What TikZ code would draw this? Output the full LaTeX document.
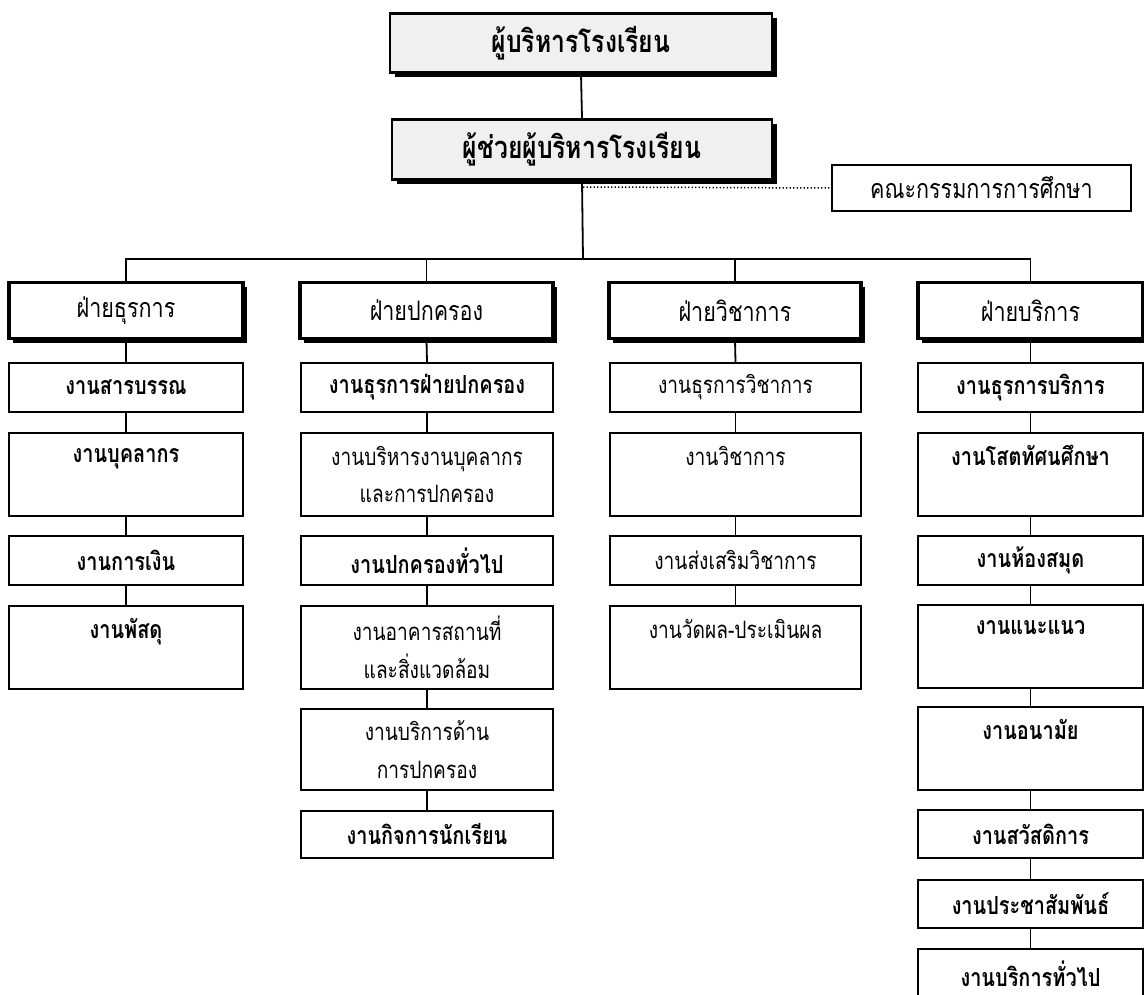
\documentclass[tikz,border=0pt]{standalone}
\usepackage{fontspec}
\newfontfamily\thai[Script=Thai, FakeStretch=0.8]{Loma}
\usetikzlibrary{shadows}
\tikzset{
  base/.style={draw, rectangle, inner sep=0pt, anchor=north, align=center, fill=white},
  topbox/.style={base, line width=2.8bp, fill=gray!12,
    drop shadow={shadow xshift=5bp, shadow yshift=-5bp, fill=black, opacity=1},
    font=\thai\bfseries\fontsize{31}{36}\selectfont},
  headbox/.style={base, line width=3.2bp, minimum height=56bp,
    drop shadow={shadow xshift=4bp, shadow yshift=-4bp, fill=black, opacity=1},
    font=\thai\fontsize{27}{32}\selectfont},
  commbox/.style={base, line width=2bp, font=\thai\fontsize{27}{32}\selectfont},
  sub/.style={base, line width=1.8bp, font=\thai\bfseries\fontsize{25}{38}\selectfont},
  subl/.style={sub, font=\thai\fontsize{24}{38}\selectfont},
  short/.style={minimum height=49bp},
  tall/.style={minimum height=83bp},
  link/.style={line width=1.8bp},
  dotlink/.style={line width=1.5bp, dash pattern=on 1.3bp off 2.2bp},
  colA/.style={minimum width=234bp},
  colB/.style={minimum width=252bp},
  colC/.style={minimum width=251bp},
  colD/.style={minimum width=225bp},
}
\begin{document}
\begin{tikzpicture}[x=1bp,y=-1bp]
\useasboundingbox (0,0) rectangle (1144,995);
\clip (0,0) rectangle (1144,995);
\fill[white] (0,0) rectangle (1144,995);

% top
\node[topbox, minimum width=382bp, minimum height=59bp] (boss) at (581,12) {ผู้บริหารโรงเรียน};
\node[topbox, minimum width=380bp, minimum height=60bp] (asst) at (582,118) {ผู้ช่วยผู้บริหารโรงเรียน};
\node[commbox, minimum width=299bp, minimum height=46bp] (comm) at (981.5,164) {คณะกรรมการการศึกษา};

\coordinate (bus) at (583,259);
\coordinate (dot) at (583,187);

% heads
\node[headbox, minimum width=234bp] (h1) at (126,281) {ฝ่ายธุรการ};
\node[headbox, minimum width=253bp] (h2) at (426.5,281) {ฝ่ายปกครอง};
\node[headbox, minimum width=252bp] (h3) at (735,281) {ฝ่ายวิชาการ};
\node[headbox, minimum width=225bp] (h4) at (1030.5,281) {ฝ่ายบริการ};

% column 1
\node[sub, colA, short] (a1) at (126,362) {งานสารบรรณ};
\node[sub, colA, tall]  (a2) at (126,432) {งานบุคลากร\\\mbox{}};
\node[sub, colA, short] (a3) at (126,535) {งานการเงิน};
\node[sub, colA, tall]  (a4) at (126,605) {งานพัสดุ\\\mbox{}};

% column 2
\node[sub, colB, short] (b1) at (427,362) {งานธุรการฝ่ายปกครอง};
\node[subl, colB, tall] (b2) at (427,432) {งานบริหารงานบุคลากร\\และการปกครอง};
\node[sub, colB, short] (b3) at (427,535) {งานปกครองทั่วไป};
\node[subl, colB, tall] (b4) at (427,605) {งานอาคารสถานที่\\และสิ่งแวดล้อม};
\node[subl, colB, minimum height=81bp] (b5) at (427,708) {งานบริการด้าน\\การปกครอง};
\node[sub, colB, minimum height=47bp] (b6) at (427,810) {งานกิจการนักเรียน};

% column 3
\node[subl, colC, short] (c1) at (735.5,362) {งานธุรการวิชาการ};
\node[subl, colC, tall]  (c2) at (735.5,432) {งานวิชาการ\\\mbox{}};
\node[subl, colC, short] (c3) at (735.5,535) {งานส่งเสริมวิชาการ};
\node[subl, colC, tall]  (c4) at (735.5,605) {งานวัดผล-ประเมินผล\\\mbox{}};

% column 4
\node[sub, colD, short] (d1) at (1030.5,362) {งานธุรการบริการ};
\node[sub, colD, tall]  (d2) at (1030.5,432) {งานโสตทัศนศึกษา\\\mbox{}};
\node[sub, colD, short] (d3) at (1030.5,535) {งานห้องสมุด};
\node[sub, colD, tall]  (d4) at (1030.5,604) {งานแนะแนว\\\mbox{}};
\node[sub, colD, tall]  (d5) at (1030.5,706) {งานอนามัย\\\mbox{}};
\node[sub, colD, minimum height=48bp] (d6) at (1030.5,809) {งานสวัสดิการ};
\node[sub, colD, minimum height=48bp] (d7) at (1030.5,879) {งานประชาสัมพันธ์};
\node[sub, colD, minimum height=49bp] (d8) at (1030.5,948) {งานบริการทั่วไป};

% connectors
\draw[link] (boss.south) -- (asst.north);
\draw[link] (asst.south) -- (bus);
\draw[dotlink] (dot) -- (comm.west);
\draw[link] (h1.north) |- (bus);
\draw[link] (h4.north) |- (bus);
\draw[link] (h2.north) -- (h2.north |- bus);
\draw[link] (h3.north) -- (h3.north |- bus);

\foreach \u/\v in {h1/a1,a1/a2,a2/a3,a3/a4,
                   h2/b1,b1/b2,b2/b3,b3/b4,b4/b5,b5/b6,
                   h3/c1,c1/c2,c2/c3,c3/c4,
                   h4/d1,d1/d2,d2/d3,d3/d4,d4/d5,d5/d6,d6/d7,d7/d8}
  \draw[link] (\u.south) -- (\v.north);
\end{tikzpicture}
\end{document}
